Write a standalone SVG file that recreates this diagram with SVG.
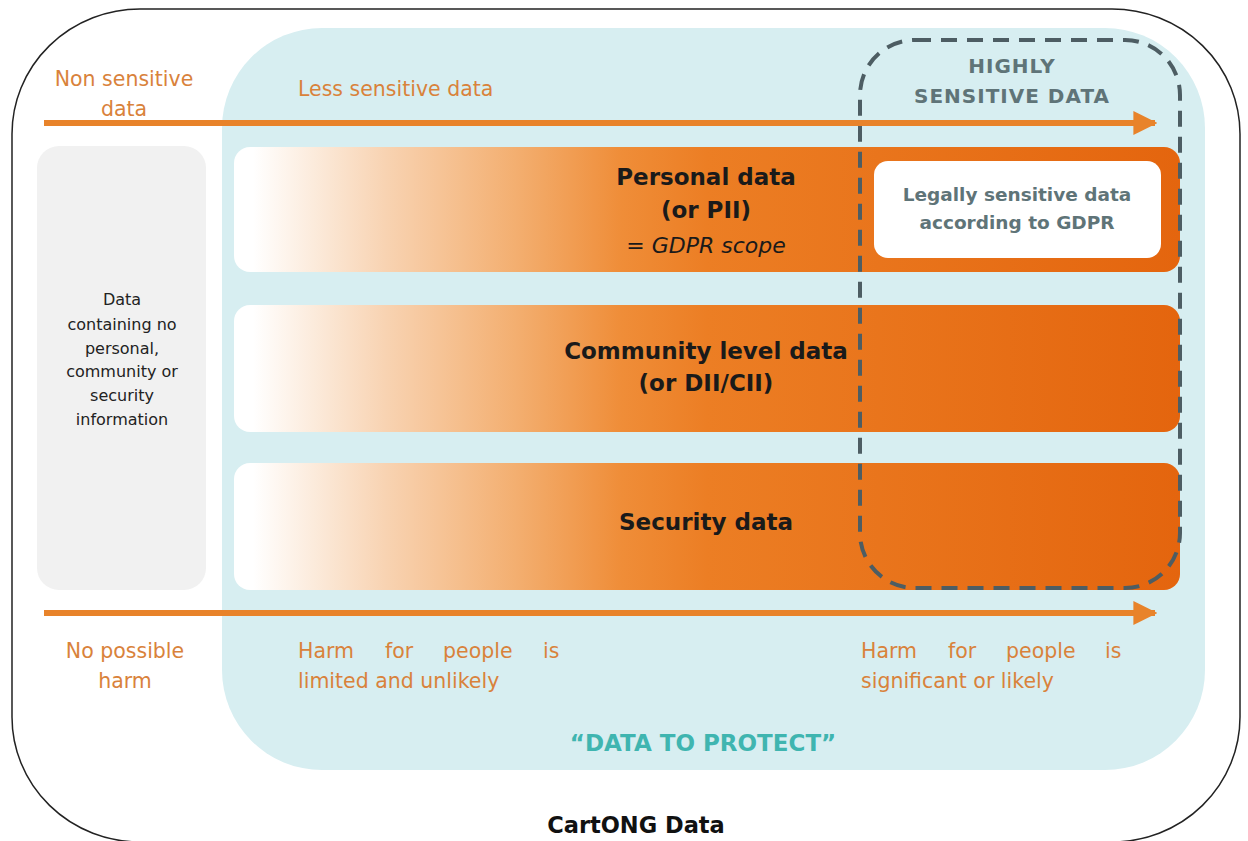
<svg xmlns="http://www.w3.org/2000/svg" width="1248" height="841" viewBox="0 0 1248 841">
<style>
.or{font-family:"DejaVu Sans",Verdana,sans-serif;font-size:20.5px;fill:#d9823b}
.bar{font-family:"DejaVu Sans",Verdana,sans-serif;font-size:23px;font-weight:bold;fill:#1a1a1a;text-anchor:middle}
.gr{font-family:"DejaVu Sans",Verdana,sans-serif;font-size:16px;fill:#222;text-anchor:middle}
.hs{font-family:"DejaVu Sans",Verdana,sans-serif;font-size:20px;letter-spacing:1px;font-weight:bold;fill:#5f7478;text-anchor:middle}
.lg{font-family:"DejaVu Sans",Verdana,sans-serif;font-size:18.5px;font-weight:bold;fill:#5f7478;text-anchor:middle}
</style>
<defs>
<linearGradient id="og" x1="0" y1="0" x2="1" y2="0">
<stop offset="0.02" stop-color="#ffffff"/>
<stop offset="0.16" stop-color="#f8d3b2"/>
<stop offset="0.30" stop-color="#f3ae6f"/>
<stop offset="0.41" stop-color="#ef8d38"/>
<stop offset="0.5" stop-color="#ec7e24"/>
<stop offset="1" stop-color="#e4650e"/>
</linearGradient>
<marker id="ah" viewBox="0 0 10 10" refX="9" refY="5" markerWidth="4" markerHeight="4" orient="auto" markerUnits="strokeWidth">
<path d="M0,0 L10,5 L0,10 z" fill="#e8832a"/>
</marker>
</defs>
<rect width="1248" height="841" fill="#ffffff"/>
<g id="frame">
<rect x="12" y="9" width="1228" height="833" rx="128" ry="125" fill="none" stroke="#222" stroke-width="1.5"/>
</g>
<g id="protect-area">
<rect x="222" y="28" width="983" height="742" rx="100" ry="100" fill="#d7eef1"/>
</g>
<g id="non-sensitive">
<rect x="37" y="146" width="169" height="444" rx="22" fill="#f1f1f1"/>
<text class="gr" x="122" y="305">Data</text>
<text class="gr" x="122" y="330">containing no</text>
<text class="gr" x="122" y="354">personal,</text>
<text class="gr" x="122" y="377">community or</text>
<text class="gr" x="122" y="401">security</text>
<text class="gr" x="122" y="425">information</text>
</g>
<g id="personal">
<rect x="234" y="147" width="946" height="125" rx="16" fill="url(#og)"/>
<text class="bar" x="706" y="185">Personal data</text>
<text class="bar" x="706" y="218">(or PII)</text>
<text x="706" y="253" text-anchor="middle" style="font-family:'DejaVu Sans',Verdana,sans-serif;font-size:22px;font-style:italic;fill:#1a1a1a">= GDPR scope</text>
</g>
<g id="gdpr">
<rect x="874" y="161" width="287" height="97" rx="14" fill="#ffffff"/>
<text class="lg" x="1017" y="201">Legally sensitive data</text>
<text class="lg" x="1017" y="229">according to GDPR</text>
</g>
<g id="community">
<rect x="234" y="305" width="946" height="127" rx="16" fill="url(#og)"/>
<text class="bar" x="706" y="359">Community level data</text>
<text class="bar" x="706" y="391">(or DII/CII)</text>
</g>
<g id="security">
<rect x="234" y="463" width="946" height="127" rx="16" fill="url(#og)"/>
<text class="bar" x="706" y="530">Security data</text>
</g>
<g id="highly-sensitive">
<rect x="860" y="40" width="320" height="548" rx="55" fill="none" stroke="#4d5d63" stroke-width="4" stroke-dasharray="16,10"/>
<text class="hs" x="1012" y="73">HIGHLY</text>
<text class="hs" x="1012" y="103">SENSITIVE DATA</text>
</g>
<g id="connectors">
<line x1="44" y1="123" x2="1155" y2="123" stroke="#e8832a" stroke-width="6" marker-end="url(#ah)"/>
<line x1="44" y1="613" x2="1155" y2="613" stroke="#e8832a" stroke-width="6" marker-end="url(#ah)"/>
</g>
<g id="labels">
<text class="or" x="124" y="86" text-anchor="middle">Non sensitive</text>
<text class="or" x="124" y="116" text-anchor="middle">data</text>
<text class="or" x="298" y="96">Less sensitive data</text>
<text class="or" x="125" y="658" text-anchor="middle">No possible</text>
<text class="or" x="125" y="688" text-anchor="middle">harm</text>
<text class="or" y="658"><tspan x="298">Harm</tspan><tspan x="385">for</tspan><tspan x="443">people</tspan><tspan x="543">is</tspan></text>
<text class="or" x="298" y="688">limited and unlikely</text>
<text class="or" y="658"><tspan x="861">Harm</tspan><tspan x="948">for</tspan><tspan x="1006">people</tspan><tspan x="1105">is</tspan></text>
<text class="or" x="861" y="688">significant or likely</text>
<text x="703" y="751" text-anchor="middle" style="font-family:'DejaVu Sans',Verdana,sans-serif;font-size:23px;font-weight:bold;fill:#3fb5b0">“DATA TO PROTECT”</text>
<text x="636" y="833" text-anchor="middle" style="font-family:'DejaVu Sans',Verdana,sans-serif;font-size:22.5px;font-weight:bold;fill:#111">CartONG Data</text>
</g>
</svg>
